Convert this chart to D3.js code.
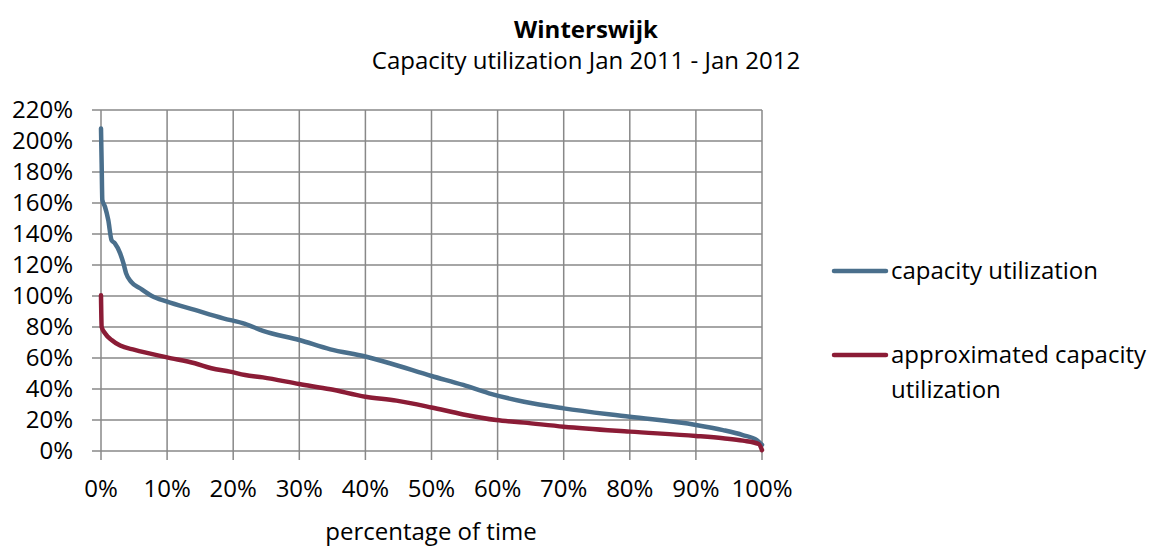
<!DOCTYPE html>
<html><head><meta charset="utf-8">
<script src="https://cdn.jsdelivr.net/npm/d3@7"></script>
<style>body{margin:0;background:#fff}svg{display:block}text{font-family:"Open Sans","Noto Sans",sans-serif;fill:#000}</style>
</head><body><svg id="c" width="1156" height="546"></svg>
<script>
const xTicks = [0,10,20,30,40,50,60,70,80,90,100];
const yTicks = [0,20,40,60,80,100,120,140,160,180,200,220];
const capX = [0,0.1,0.2,0.6,1.1,1.6,2.1,2.9,3.4,3.8,4.6,5.9,7.7,9.9,14.2,18.5,21.8,24.5,30,34.7,40,43.7,50,54.8,58.7,64,70,80,90,94.1,97.1,99.2,100];
const capY = [208,185,162,157.6,149,136,134,127.5,121,114.6,109,105,100,96.5,91,85.6,82,77.5,71.6,65.6,61,56.6,48.4,42.6,37.2,31.8,27.5,22.1,16.8,13.5,10.3,7.1,4];
const apxX = [0,0.1,0.6,1.6,2.9,5.1,10,14.2,16.7,19.5,21.8,24.5,30,34.7,40,44.7,50,54.8,59.8,64,70,80,90,94.1,97.1,99.5,100];
const apxY = [100.5,80,76,71.6,68,65.2,60.4,56.6,53.4,51.2,49,47.5,43.2,39.8,35,32.5,28.1,23.6,20,18.3,15.7,12.5,9.7,8.2,6.7,4.5,0.6];
const seriesNames = ["capacity utilization","approximated capacity utilization"];
const colors = ["#4a6f8c","#8b1c36"];

const svg = d3.select("#c");
const L=101, R=762, T=110, B=451;
const x = d3.scaleLinear().domain([0,100]).range([L,R]);
const y = d3.scaleLinear().domain([0,220]).range([B,T]);
const grid = "#888";
const FS = 24;

svg.append("g").selectAll("line").data(yTicks).join("line")
  .attr("x1",L-9).attr("x2",R).attr("y1",d=>y(d)).attr("y2",d=>y(d))
  .attr("stroke",grid).attr("stroke-width",1.5);
svg.append("g").selectAll("line").data(xTicks).join("line")
  .attr("y1",T).attr("y2",B+9).attr("x1",d=>x(d)).attr("x2",d=>x(d))
  .attr("stroke",grid).attr("stroke-width",1.5);

svg.append("g").selectAll("text").data(yTicks).join("text")
  .attr("x",73).attr("y",d=>y(d)).attr("dy","0.35em").attr("text-anchor","end")
  .attr("font-size",FS).text(d=>d+"%");
svg.append("g").selectAll("text").data(xTicks).join("text")
  .attr("x",d=>x(d)).attr("y",489).attr("dy","0.35em").attr("text-anchor","middle")
  .attr("font-size",FS).text(d=>d+"%");
svg.append("text").attr("x",431).attr("y",532).attr("dy","0.35em").attr("text-anchor","middle")
  .attr("font-size",FS).text("percentage of time");
svg.append("text").attr("x",586).attr("y",30).attr("dy","0.35em").attr("text-anchor","middle")
  .attr("font-size",FS).attr("font-weight","bold").text("Winterswijk");
svg.append("text").attr("x",586).attr("y",61).attr("dy","0.35em").attr("text-anchor","middle")
  .attr("font-size",FS).text("Capacity utilization Jan 2011 - Jan 2012");

const line = d3.line().x(d=>x(d[0])).y(d=>y(d[1])).curve(d3.curveMonotoneX);
const data = [d3.zip(capX,capY), d3.zip(apxX,apxY)];
data.forEach((d,i)=>{
  svg.append("path").attr("d",line(d)).attr("fill","none").attr("stroke",colors[i])
    .attr("stroke-width",4.5).attr("stroke-linejoin","round").attr("stroke-linecap","round");
});

const ly = [271, 355];
ly.forEach((yy,i)=>{
  svg.append("line").attr("x1",834).attr("x2",886).attr("y1",yy).attr("y2",yy)
    .attr("stroke",colors[i]).attr("stroke-width",4.5).attr("stroke-linecap","round");
});
svg.append("text").attr("x",891).attr("y",271).attr("dy","0.35em").attr("font-size",FS).text(seriesNames[0]);
svg.append("text").attr("x",891).attr("y",355).attr("dy","0.35em").attr("font-size",FS).text("approximated capacity");
svg.append("text").attr("x",891).attr("y",390).attr("dy","0.35em").attr("font-size",FS).text("utilization");
</script></body></html>
